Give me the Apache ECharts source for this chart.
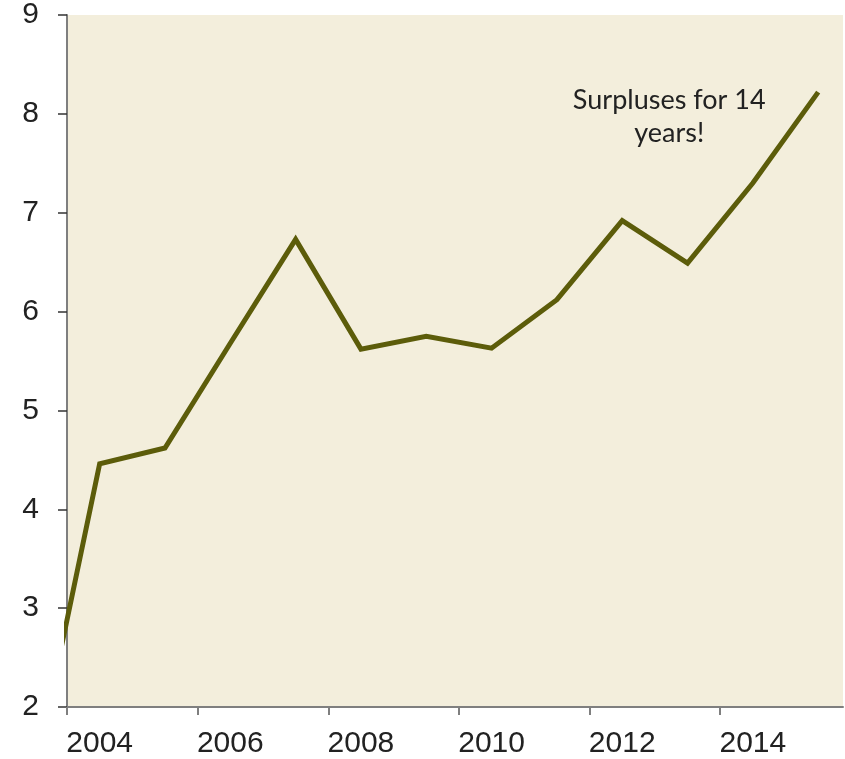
<!DOCTYPE html>
<html>
<head>
<meta charset="utf-8">
<script src="https://cdn.jsdelivr.net/npm/echarts@6/dist/echarts.min.js"></script>
<style>
  html, body { margin: 0; padding: 0; background: #ffffff; }
  #chart { width: 845px; height: 759px; }
</style>
</head>
<body>
<div id="chart"></div>
<script>
// Surplus by year (each value sits in the middle of its year)
var years = [2003, 2004, 2005, 2006, 2007, 2008, 2009, 2010, 2011, 2012, 2013, 2014, 2015];
var surplus = [1.30, 4.46, 4.62, 5.68, 6.73, 5.62, 5.75, 5.63, 6.12, 6.92, 6.49, 7.30, 8.22];

// Axis labels and year boundaries where ticks are drawn
var yearLabels = [2004, 2006, 2008, 2010, 2012, 2014];
var yearTicks = [2003.5, 2005.5, 2007.5, 2009.5, 2011.5, 2013.5];

var note = 'Surpluses for 14\nyears!';
var notePos = [2012.72, 7.97];

var points = years.map(function (y, i) { return [y, surplus[i]]; });

var chart = echarts.init(document.getElementById('chart'));
chart.setOption({
  animation: false,
  grid: {
    left: 67, right: 2, top: 15, bottom: 52,
    show: true, backgroundColor: '#F3EEDC', borderWidth: 0
  },
  xAxis: {
    type: 'value',
    min: 2003.5,
    max: 2015.38,
    splitLine: { show: false },
    axisLine: { show: true, lineStyle: { color: '#7f7f7f', width: 2 } },
    axisTick: { show: true, customValues: yearTicks, length: 8, lineStyle: { color: '#7f7f7f', width: 2 } },
    axisLabel: {
      customValues: yearLabels,
      margin: 22,
      fontFamily: 'Liberation Sans, Arial, sans-serif',
      fontSize: 30,
      color: '#222222',
      formatter: function (v) { return String(v); }
    }
  },
  yAxis: {
    type: 'value',
    min: 2, max: 9, interval: 1,
    splitLine: { show: false },
    axisLine: { show: true, lineStyle: { color: '#7f7f7f', width: 2 } },
    axisTick: { show: true, length: 9, lineStyle: { color: '#333333', width: 1.5 } },
    axisLabel: {
      margin: 28,
      fontFamily: 'Liberation Sans, Arial, sans-serif',
      fontSize: 30,
      color: '#222222'
    }
  },
  series: [{
    type: 'line',
    data: points,
    symbol: 'none',
    clip: true,
    lineStyle: { color: '#5c5c0a', width: 5, join: 'miter' },
    markPoint: {
      symbol: 'circle',
      symbolSize: 0,
      silent: true,
      data: [{ coord: notePos }],
      label: {
        show: true,
        position: 'inside',
        formatter: note,
        fontFamily: 'Lato, Open Sans, sans-serif',
        fontSize: 27,
        lineHeight: 33,
        color: '#222222',
        align: 'center'
      }
    }
  }]
});
</script>
</body>
</html>
